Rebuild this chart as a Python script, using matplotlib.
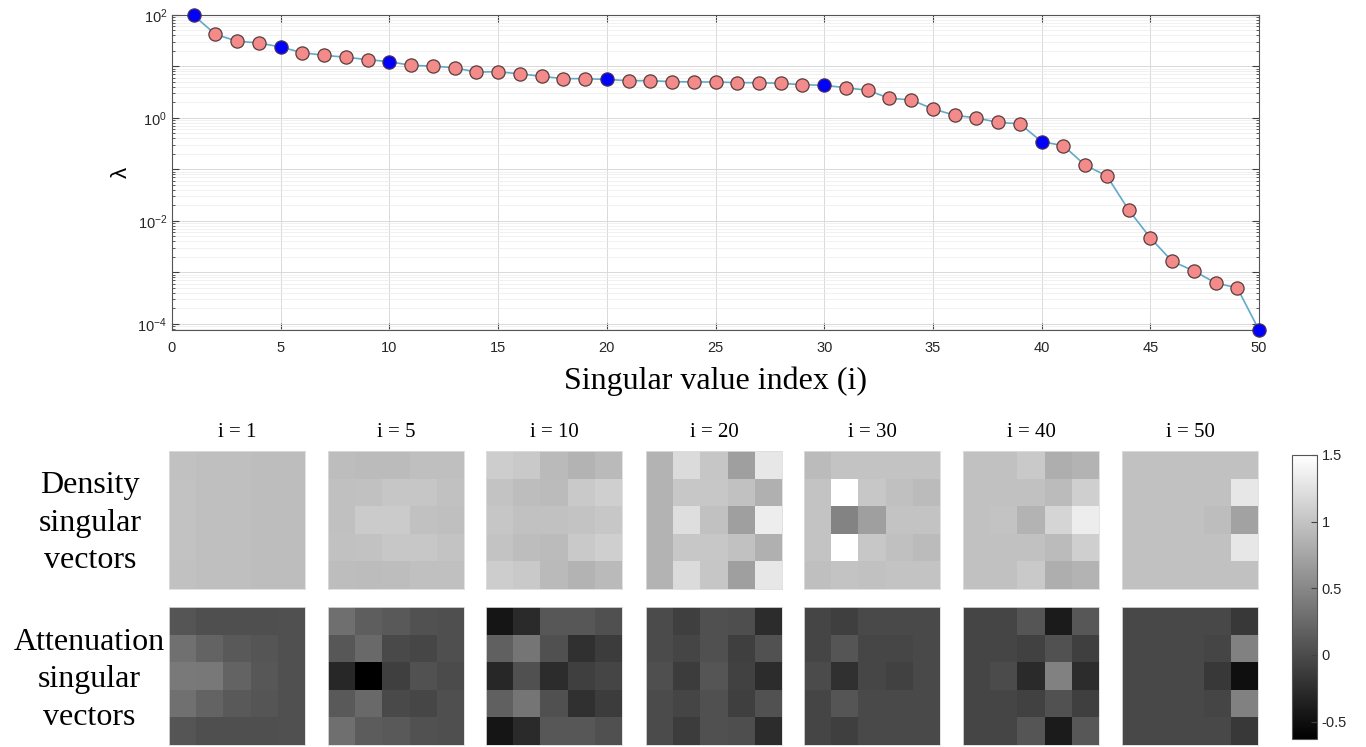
import numpy as np
import matplotlib.pyplot as plt
from matplotlib.ticker import LogLocator, NullFormatter, FixedLocator

plt.rcParams['font.family'] = ['Liberation Sans', 'DejaVu Sans']
plt.rcParams['mathtext.fontset'] = 'custom'
plt.rcParams['mathtext.rm'] = 'Liberation Sans'

# singular values
sv_index = list(range(1, 51))
sv_lambda = [98, 42, 31, 28.6, 23.9, 18.5, 16.5, 15.1, 13.6, 12.4,
             10.5, 10.2, 9.4, 7.8, 7.9, 7.2, 6.45, 5.8, 5.8, 5.6,
             5.3, 5.3, 5.07, 5.0, 5.0, 4.85, 4.85, 4.7, 4.43, 4.3,
             3.87, 3.45, 2.41, 2.24, 1.50, 1.13, 1.0, 0.82, 0.77, 0.347,
             0.29, 0.121, 0.075, 0.0164, 0.0047, 0.00165, 0.00107, 0.000625, 0.0005, 7.6e-5]
shown_index = [1, 5, 10, 20, 30, 40, 50]

# 5x5 singular vector images (rows top to bottom)
density_maps = [
    [[0.98, 0.96, 0.96, 0.95, 0.95],
     [0.99, 0.96, 0.96, 0.95, 0.95],
     [0.99, 0.96, 0.96, 0.95, 0.95],
     [0.99, 0.96, 0.96, 0.95, 0.95],
     [0.98, 0.96, 0.96, 0.95, 0.95]],
    [[0.95, 0.93, 0.93, 0.96, 0.96],
     [0.97, 0.98, 1.02, 1.02, 0.98],
     [0.97, 1.06, 1.06, 0.98, 0.96],
     [0.98, 0.99, 1.03, 1.03, 1.00],
     [0.95, 0.94, 0.95, 0.97, 0.97]],
    [[1.08, 1.05, 0.92, 0.86, 0.92],
     [1.00, 0.95, 0.93, 1.05, 1.10],
     [1.02, 0.98, 0.98, 1.00, 1.03],
     [1.00, 0.95, 0.93, 1.05, 1.10],
     [1.08, 1.05, 0.92, 0.86, 0.92]],
    [[0.86, 1.20, 1.02, 0.70, 1.30],
     [0.86, 1.03, 1.03, 0.98, 0.84],
     [0.86, 1.22, 0.98, 0.70, 1.35],
     [0.86, 1.03, 1.03, 0.98, 0.84],
     [0.86, 1.20, 1.02, 0.70, 1.30]],
    [[0.93, 1.00, 1.00, 1.00, 1.00],
     [1.00, 1.55, 1.03, 0.97, 0.93],
     [1.00, 0.46, 0.70, 1.00, 1.00],
     [1.00, 1.55, 1.03, 0.97, 0.93],
     [0.96, 1.00, 0.98, 1.00, 1.00]],
    [[0.98, 0.98, 1.05, 0.82, 0.86],
     [0.98, 0.98, 0.98, 0.93, 1.10],
     [0.98, 1.00, 0.86, 1.15, 1.35],
     [0.98, 0.98, 0.98, 0.93, 1.10],
     [0.98, 0.98, 1.05, 0.82, 0.86]],
    [[0.98, 0.98, 0.98, 0.98, 0.98],
     [0.98, 0.98, 0.98, 0.98, 1.30],
     [0.98, 0.98, 0.98, 0.95, 0.72],
     [0.98, 0.98, 0.98, 0.98, 1.30],
     [0.98, 0.98, 0.98, 0.98, 0.98]],
]

attenuation_maps = [
    [[0.08, 0.03, 0.03, 0.03, 0.04],
     [0.31, 0.20, 0.12, 0.08, 0.04],
     [0.39, 0.37, 0.20, 0.10, 0.04],
     [0.31, 0.20, 0.12, 0.08, 0.04],
     [0.08, 0.03, 0.03, 0.03, 0.04]],
    [[0.30, 0.16, 0.12, 0.06, 0.03],
     [0.10, 0.25, -0.02, -0.04, 0.03],
     [-0.30, -0.63, -0.10, 0.06, 0.00],
     [0.12, 0.25, -0.02, -0.04, 0.03],
     [0.30, 0.14, 0.12, 0.06, 0.03]],
    [[-0.45, -0.28, 0.10, 0.10, 0.04],
     [0.17, 0.35, 0.04, -0.22, -0.12],
     [-0.30, 0.04, -0.25, -0.10, -0.05],
     [0.17, 0.35, 0.04, -0.22, -0.12],
     [-0.45, -0.28, 0.10, 0.10, 0.04]],
    [[0.00, -0.10, 0.04, 0.02, -0.25],
     [0.00, -0.05, 0.04, -0.10, 0.06],
     [0.03, -0.12, 0.08, -0.08, -0.25],
     [0.00, -0.05, 0.04, -0.10, 0.06],
     [0.00, -0.12, 0.04, 0.02, -0.25]],
    [[-0.05, -0.10, -0.02, -0.02, -0.02],
     [-0.05, 0.08, -0.04, -0.04, -0.02],
     [0.00, -0.22, -0.04, -0.08, -0.02],
     [-0.05, 0.08, -0.02, -0.02, -0.02],
     [-0.05, -0.10, -0.02, -0.02, -0.02]],
    [[-0.05, -0.05, 0.08, -0.40, 0.10],
     [-0.05, -0.05, -0.08, 0.06, -0.10],
     [-0.05, 0.00, -0.28, 0.45, -0.25],
     [-0.05, -0.05, -0.08, 0.06, -0.10],
     [-0.05, -0.05, 0.08, -0.40, 0.10]],
    [[-0.03, -0.03, -0.03, -0.03, -0.15],
     [-0.03, -0.03, -0.03, -0.05, 0.45],
     [-0.03, -0.03, -0.03, -0.15, -0.50],
     [-0.03, -0.03, -0.03, -0.05, 0.45],
     [-0.03, -0.03, -0.03, -0.03, -0.15]],
]

cbar_ticks = [-0.5, 0, 0.5, 1, 1.5]
vmin, vmax = -0.63, 1.5

W, H = 1366, 747
fig = plt.figure(figsize=(W / 100, H / 100), dpi=100)


def box(x0, y0, x1, y1):
    # pixel box (top-left origin) -> figure fraction rect
    return [x0 / W, 1 - y1 / H, (x1 - x0) / W, (y1 - y0) / H]


# ---- top panel: singular values ----
ax = fig.add_axes(box(172, 15, 1259, 330))
ax.plot(sv_index, sv_lambda, '-', color='#62a9c9', lw=1.2, zorder=2)
pink_x = [i for i in sv_index if i not in shown_index]
pink_y = [sv_lambda[i - 1] for i in pink_x]
blue_y = [sv_lambda[i - 1] for i in shown_index]
ax.plot(pink_x, pink_y, 'o', ms=9.5, mfc='#f38b8b', mec='#5a3b3b', mew=0.9,
        zorder=3, clip_on=False)
ax.plot(shown_index, blue_y, 'o', ms=9.5, mfc='#0000ff', mec='#4a2f5a', mew=0.9,
        zorder=4, clip_on=False)

ax.set_yscale('log')
ax.set_xlim(0, 50)
ax.set_ylim(7.6e-5, 100)
ax.set_xticks(range(0, 51, 5))
decades = [10.0 ** k for k in range(-4, 3)]
ax.yaxis.set_major_locator(FixedLocator(decades))
ax.set_yticklabels([r'$\mathregular{10^{%d}}$' % k if k % 2 == 0 else ''
                    for k in range(-4, 3)])
ax.yaxis.set_minor_locator(LogLocator(base=10, subs=range(2, 10), numticks=20))
ax.yaxis.set_minor_formatter(NullFormatter())
ax.tick_params(which='both', direction='in', top=True, right=True,
               colors='#404040', labelcolor='#262626', labelsize=10.5)
ax.tick_params(which='major', length=5)
ax.tick_params(which='minor', length=2.5)
ax.tick_params(axis='x', pad=8)
ax.grid(True, which='major', color='#d9d9d9', lw=0.7)
ax.grid(True, which='minor', axis='y', color='#ececec', lw=0.5)
ax.set_axisbelow(True)
for s in ax.spines.values():
    s.set_color('#555555')
ax.set_ylabel('λ', fontsize=16, labelpad=4)
ax.set_xlabel('Singular value index (i)', family='Liberation Serif',
              fontsize=23, labelpad=8)

# ---- bottom panels: singular vectors ----
col_left = [169, 328, 486, 646, 804, 963, 1122]
img_w = 136
rows = [(451, 589, density_maps), (607, 745, attenuation_maps)]
im = None
for r, (top, bottom, maps) in enumerate(rows):
    for c, k in enumerate(shown_index):
        hax = fig.add_axes(box(col_left[c], top, col_left[c] + img_w, bottom))
        im = hax.imshow(np.array(maps[c]), cmap='gray', vmin=vmin, vmax=vmax,
                        aspect='auto', interpolation='nearest')
        hax.set_xticks([])
        hax.set_yticks([])
        for s in hax.spines.values():
            s.set_color('#dddddd')
            s.set_linewidth(0.6)
        if r == 0:
            hax.set_title(f'i = {k}', family='Liberation Serif', fontsize=15, pad=10)

fig.text(90 / W, 1 - 523 / H, 'Density\nsingular\nvectors', family='Liberation Serif',
         fontsize=23, ha='center', va='center', linespacing=1.38)
fig.text(89 / W, 1 - 680 / H, 'Attenuation\nsingular\nvectors', family='Liberation Serif',
         fontsize=23, ha='center', va='center', linespacing=1.38)

cax = fig.add_axes(box(1292, 455, 1317, 739))
cb = fig.colorbar(im, cax=cax, ticks=cbar_ticks)
cb.ax.set_yticklabels(['-0.5', '0', '0.5', '1', '1.5'])
cb.ax.tick_params(direction='in', length=4, labelsize=10.5, colors='#404040',
                  labelcolor='#262626')
cb.outline.set_edgecolor('#555555')

fig.savefig('out.png', dpi=100)
